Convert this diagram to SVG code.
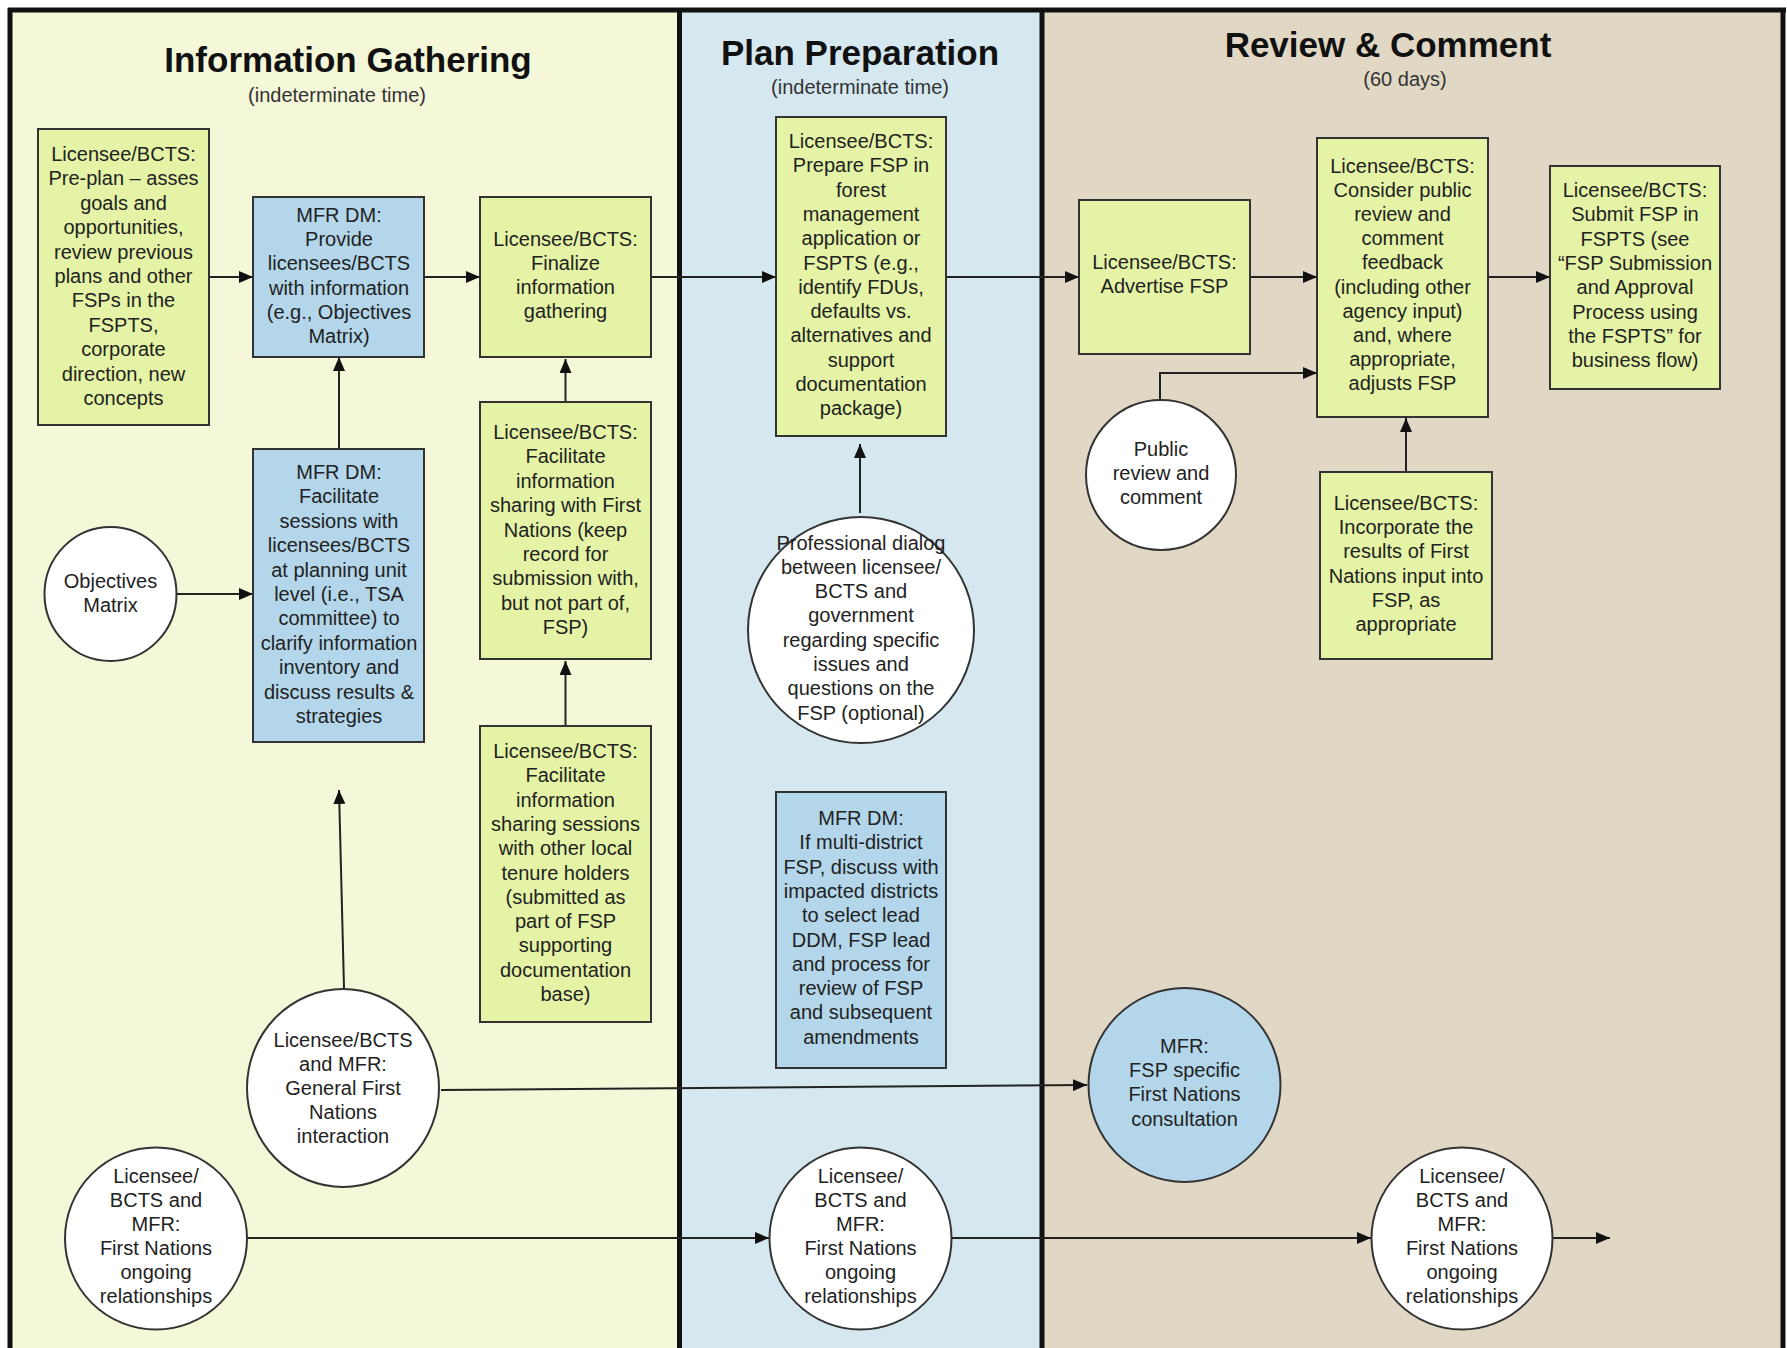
<svg xmlns="http://www.w3.org/2000/svg" width="1787" height="1348" viewBox="0 0 1787 1348">
<style>
text{font-family:"Liberation Sans",Arial,sans-serif;font-size:20px;fill:#222;text-anchor:middle}
.title{font-size:35px;font-weight:bold;fill:#111}
.sub{font-size:20px;fill:#333}
.box{stroke:#333;stroke-width:2}
.g{fill:#E4F3A5}
.b{fill:#B3D6EA}
.w{fill:#fff}
.conn{stroke:#222;stroke-width:2;fill:none;marker-end:url(#arr)}
.border{stroke:#111;stroke-width:5;fill:none}
</style>
<defs>
<marker id="arr" viewBox="0 0 14 12" refX="14" refY="6" markerWidth="14" markerHeight="12" markerUnits="userSpaceOnUse" orient="auto">
<path d="M0,0 L14,6 L0,12 z" fill="#111"/>
</marker>
</defs>
<g id="lanes">
<rect x="10" y="10" width="670" height="1345" fill="#F4F7D8"/>
<rect x="680" y="10" width="362" height="1345" fill="#D5E8EF"/>
<rect x="1042" y="10" width="741" height="1345" fill="#E0D8C4"/>
<path class="border" d="M8,10 H1786 M10,8 V1350 M679.5,10 V1350 M1042,10 V1350 M1783,10 V1350"/>
<text class="title" x="348" y="72">Information Gathering</text>
<text class="sub" x="337" y="102">(indeterminate time)</text>
<text class="title" x="860" y="65">Plan Preparation</text>
<text class="sub" x="860" y="94">(indeterminate time)</text>
<text class="title" x="1388" y="57">Review &amp; Comment</text>
<text class="sub" x="1405" y="86">(60 days)</text>
</g>
<g id="connectors">
<path class="conn" d="M209,277 H253"/>
<path class="conn" d="M424,277 H480"/>
<path class="conn" d="M651,277 H776"/>
<path class="conn" d="M946,277 H1079"/>
<path class="conn" d="M1250,277 H1317"/>
<path class="conn" d="M1488,277 H1550"/>
<path class="conn" d="M339,449 V357"/>
<path class="conn" d="M565.5,402 V359"/>
<path class="conn" d="M565.5,726 V661"/>
<path class="conn" d="M177,594 H253"/>
<path class="conn" d="M344,988 L339,790"/>
<path class="conn" d="M441,1090 L1087,1085"/>
<path class="conn" d="M246,1238 H769"/>
<path class="conn" d="M951,1238 H1371"/>
<path class="conn" d="M1552,1238 H1610"/>
<path class="conn" d="M860,513 V444"/>
<path class="conn" d="M1160,399 V373 H1317"/>
<path class="conn" d="M1406,472 V418"/>
</g>
<g id="preplan">
<rect class="box g" x="38" y="129" width="171" height="296"/>
<text x="123.5" y="161">Licensee/BCTS:</text>
<text x="123.5" y="185.4">Pre-plan – asses</text>
<text x="123.5" y="209.8">goals and</text>
<text x="123.5" y="234.2">opportunities,</text>
<text x="123.5" y="258.6">review previous</text>
<text x="123.5" y="283">plans and other</text>
<text x="123.5" y="307.4">FSPs in the</text>
<text x="123.5" y="331.8">FSPTS,</text>
<text x="123.5" y="356.2">corporate</text>
<text x="123.5" y="380.6">direction, new</text>
<text x="123.5" y="405">concepts</text>
</g>
<g id="provide">
<rect class="box b" x="253" y="197" width="171" height="160"/>
<text x="339" y="222">MFR DM:</text>
<text x="339" y="246.2">Provide</text>
<text x="339" y="270.4">licensees/BCTS</text>
<text x="339" y="294.6">with information</text>
<text x="339" y="318.8">(e.g., Objectives</text>
<text x="339" y="343">Matrix)</text>
</g>
<g id="finalize">
<rect class="box g" x="480" y="197" width="171" height="160"/>
<text x="565.5" y="246">Licensee/BCTS:</text>
<text x="565.5" y="270">Finalize</text>
<text x="565.5" y="294">information</text>
<text x="565.5" y="318">gathering</text>
</g>
<g id="facilitate-mfr">
<rect class="box b" x="253" y="449" width="171" height="293"/>
<text x="339" y="479">MFR DM:</text>
<text x="339" y="503.4">Facilitate</text>
<text x="339" y="527.8">sessions with</text>
<text x="339" y="552.2">licensees/BCTS</text>
<text x="339" y="576.6">at planning unit</text>
<text x="339" y="601">level (i.e., TSA</text>
<text x="339" y="625.4">committee) to</text>
<text x="339" y="649.8">clarify information</text>
<text x="339" y="674.2">inventory and</text>
<text x="339" y="698.6">discuss results &amp;</text>
<text x="339" y="723">strategies</text>
</g>
<g id="objectives">
<ellipse class="box w" cx="110.5" cy="594" rx="66" ry="67"/>
<text x="110.5" y="588">Objectives</text>
<text x="110.5" y="612">Matrix</text>
</g>
<g id="facilitate-fn">
<rect class="box g" x="480" y="402" width="171" height="257"/>
<text x="565.5" y="439">Licensee/BCTS:</text>
<text x="565.5" y="463.4">Facilitate</text>
<text x="565.5" y="487.8">information</text>
<text x="565.5" y="512.2">sharing with First</text>
<text x="565.5" y="536.6">Nations (keep</text>
<text x="565.5" y="561">record for</text>
<text x="565.5" y="585.4">submission with,</text>
<text x="565.5" y="609.8">but not part of,</text>
<text x="565.5" y="634.2">FSP)</text>
</g>
<g id="facilitate-local">
<rect class="box g" x="480" y="726" width="171" height="296"/>
<text x="565.5" y="758">Licensee/BCTS:</text>
<text x="565.5" y="782.3">Facilitate</text>
<text x="565.5" y="806.6">information</text>
<text x="565.5" y="830.9">sharing sessions</text>
<text x="565.5" y="855.2">with other local</text>
<text x="565.5" y="879.5">tenure holders</text>
<text x="565.5" y="903.8">(submitted as</text>
<text x="565.5" y="928.1">part of FSP</text>
<text x="565.5" y="952.4">supporting</text>
<text x="565.5" y="976.7">documentation</text>
<text x="565.5" y="1001">base)</text>
</g>
<g id="general-fn">
<ellipse class="box w" cx="343" cy="1088" rx="96" ry="99"/>
<text x="343" y="1047">Licensee/BCTS</text>
<text x="343" y="1071">and MFR:</text>
<text x="343" y="1095">General First</text>
<text x="343" y="1119">Nations</text>
<text x="343" y="1143">interaction</text>
</g>
<g id="fn-rel-1">
<ellipse class="box w" cx="156" cy="1238.5" rx="91" ry="91"/>
<text x="156" y="1183">Licensee/</text>
<text x="156" y="1207">BCTS and</text>
<text x="156" y="1231">MFR:</text>
<text x="156" y="1255">First Nations</text>
<text x="156" y="1279">ongoing</text>
<text x="156" y="1303">relationships</text>
</g>
<g id="prepare">
<rect class="box g" x="776" y="117" width="170" height="319"/>
<text x="861" y="148">Licensee/BCTS:</text>
<text x="861" y="172.3">Prepare FSP in</text>
<text x="861" y="196.6">forest</text>
<text x="861" y="220.9">management</text>
<text x="861" y="245.2">application or</text>
<text x="861" y="269.5">FSPTS (e.g.,</text>
<text x="861" y="293.8">identify FDUs,</text>
<text x="861" y="318.1">defaults vs.</text>
<text x="861" y="342.4">alternatives and</text>
<text x="861" y="366.7">support</text>
<text x="861" y="391">documentation</text>
<text x="861" y="415.3">package)</text>
</g>
<g id="professional">
<ellipse class="box w" cx="861" cy="630" rx="113" ry="113"/>
<text x="861" y="549.5">Professional dialog</text>
<text x="861" y="573.8">between licensee/</text>
<text x="861" y="598.1">BCTS and</text>
<text x="861" y="622.4">government</text>
<text x="861" y="646.7">regarding specific</text>
<text x="861" y="671">issues and</text>
<text x="861" y="695.3">questions on the</text>
<text x="861" y="719.6">FSP (optional)</text>
</g>
<g id="multi-district">
<rect class="box b" x="776" y="792" width="170" height="276"/>
<text x="861" y="825">MFR DM:</text>
<text x="861" y="849.3">If multi-district</text>
<text x="861" y="873.6">FSP, discuss with</text>
<text x="861" y="897.9">impacted districts</text>
<text x="861" y="922.2">to select lead</text>
<text x="861" y="946.5">DDM, FSP lead</text>
<text x="861" y="970.8">and process for</text>
<text x="861" y="995.1">review of FSP</text>
<text x="861" y="1019.4">and subsequent</text>
<text x="861" y="1043.7">amendments</text>
</g>
<g id="fn-rel-2">
<ellipse class="box w" cx="860.5" cy="1238.5" rx="91" ry="91"/>
<text x="860.5" y="1183">Licensee/</text>
<text x="860.5" y="1207">BCTS and</text>
<text x="860.5" y="1231">MFR:</text>
<text x="860.5" y="1255">First Nations</text>
<text x="860.5" y="1279">ongoing</text>
<text x="860.5" y="1303">relationships</text>
</g>
<g id="advertise">
<rect class="box g" x="1079" y="200" width="171" height="154"/>
<text x="1164.5" y="269">Licensee/BCTS:</text>
<text x="1164.5" y="293">Advertise FSP</text>
</g>
<g id="consider">
<rect class="box g" x="1317" y="138" width="171" height="279"/>
<text x="1402.5" y="173">Licensee/BCTS:</text>
<text x="1402.5" y="197.1">Consider public</text>
<text x="1402.5" y="221.2">review and</text>
<text x="1402.5" y="245.3">comment</text>
<text x="1402.5" y="269.4">feedback</text>
<text x="1402.5" y="293.5">(including other</text>
<text x="1402.5" y="317.6">agency input)</text>
<text x="1402.5" y="341.7">and, where</text>
<text x="1402.5" y="365.8">appropriate,</text>
<text x="1402.5" y="390">adjusts FSP</text>
</g>
<g id="submit">
<rect class="box g" x="1550" y="166" width="170" height="223"/>
<text x="1635" y="197">Licensee/BCTS:</text>
<text x="1635" y="221.3">Submit FSP in</text>
<text x="1635" y="245.6">FSPTS (see</text>
<text x="1635" y="269.9">“FSP Submission</text>
<text x="1635" y="294.2">and Approval</text>
<text x="1635" y="318.5">Process using</text>
<text x="1635" y="342.8">the FSPTS” for</text>
<text x="1635" y="367.1">business flow)</text>
</g>
<g id="public">
<ellipse class="box w" cx="1161" cy="475" rx="75" ry="75"/>
<text x="1161" y="456">Public</text>
<text x="1161" y="480">review and</text>
<text x="1161" y="504">comment</text>
</g>
<g id="incorporate">
<rect class="box g" x="1320" y="472" width="172" height="187"/>
<text x="1406" y="510">Licensee/BCTS:</text>
<text x="1406" y="534.2">Incorporate the</text>
<text x="1406" y="558.4">results of First</text>
<text x="1406" y="582.6">Nations input into</text>
<text x="1406" y="606.8">FSP, as</text>
<text x="1406" y="631">appropriate</text>
</g>
<g id="fsp-consultation">
<ellipse class="box b" cx="1184.5" cy="1085" rx="96" ry="97"/>
<text x="1184.5" y="1053">MFR:</text>
<text x="1184.5" y="1077">FSP specific</text>
<text x="1184.5" y="1101">First Nations</text>
<text x="1184.5" y="1126">consultation</text>
</g>
<g id="fn-rel-3">
<ellipse class="box w" cx="1462" cy="1238.5" rx="90.5" ry="91"/>
<text x="1462" y="1183">Licensee/</text>
<text x="1462" y="1207">BCTS and</text>
<text x="1462" y="1231">MFR:</text>
<text x="1462" y="1255">First Nations</text>
<text x="1462" y="1279">ongoing</text>
<text x="1462" y="1303">relationships</text>
</g>
</svg>
